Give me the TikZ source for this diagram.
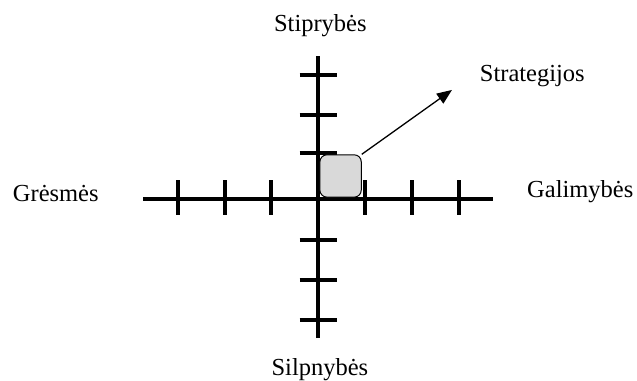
\documentclass[tikz,border=0pt]{standalone}
\usepackage{tikz}
\usetikzlibrary{arrows.meta,positioning}
\usepackage{fontspec}
\setmainfont{Liberation Serif}
\usepackage{xcolor}
\definecolor{boxgray}{HTML}{D9D9D9}

\begin{document}
\begin{tikzpicture}[scale=0.826,
    axisline/.style={line width=2pt, black},
    lbl/.style={font=\fontsize{12.25}{14}\selectfont, anchor=base, inner sep=0pt}]
  \useasboundingbox (-6.777,-3.872) rectangle (6.777,4.234);
  % Axes
  \draw[axisline] (-3.73,0) -- (3.71,0);
  \draw[axisline] (0,-2.96) -- (0,3.04);
  % Tick marks
  \foreach \x in {-3,-2,-1,1,2,3}{
    \draw[axisline] (\x,-0.34) -- (\x,0.40);
  }
  \foreach \y in {2.64,1.79,0.98,-0.87,-1.72,-2.57}{
    \draw[axisline] (-0.40,\y) -- (0.40,\y);
  }
  % Strategy box and arrow
  \node[draw=black, line width=0.5pt, fill=boxgray, rounded corners=3.5pt,
        minimum width=0.88*0.826cm, minimum height=0.90*0.826cm, inner sep=0pt]
        (box) at (0.47,0.49) {};
  \coordinate (tip) at (2.84,2.32);
  \draw[-{Triangle[length=7.5pt,width=6pt]}, line width=0.65pt] (box.north east) -- (tip);
  % Labels
  \node[lbl] (stip) at (0.04,3.57) {Stiprybės};
  \node[lbl] (strat) at (4.55,2.49) {Strategijos};
  \node[lbl] (gres) at (-5.59,-0.06) {Grėsmės};
  \node[lbl] (gal) at (5.57,0.04) {Galimybės};
  \node[lbl] (silp) at (0.03,-3.76) {Silpnybės};
\end{tikzpicture}
\end{document}
